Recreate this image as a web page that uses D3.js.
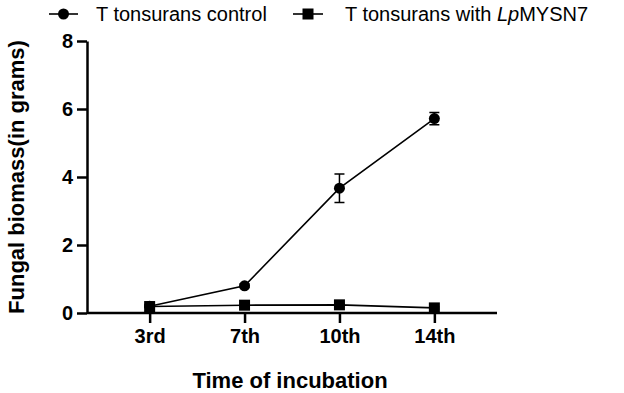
<!DOCTYPE html>
<html>
<head>
<meta charset="utf-8">
<script src="https://cdn.jsdelivr.net/npm/d3@7"></script>
<style>
  body { margin: 0; background: #fff; }
  text { font-family: "Liberation Sans", Arial, sans-serif; }
</style>
</head>
<body>
<svg width="624" height="393"></svg>
<script>
// days of incubation
const days = ['3rd', '7th', '10th', '14th'];
const controlMean = [0.2, 0.8, 3.67, 5.72];
const controlErr = [0.04, 0.05, 0.42, 0.18];
const treatedMean = [0.19, 0.23, 0.24, 0.15];
const treatedErr = [0.03, 0.03, 0.03, 0.03];
const yTicks = [0, 2, 4, 6, 8];

const svg = d3.select('svg');

const x = d3.scalePoint()
    .domain(days)
    .range([87, 497])
    .padding(0.66);

const y = d3.scaleLinear()
    .domain([0, 8])
    .range([313, 41]);

// axes
const xAxis = svg.append('g')
    .attr('transform', 'translate(0,313)')
    .call(d3.axisBottom(x).tickSize(10).tickPadding(6).tickSizeOuter(0));

const yAxis = svg.append('g')
    .attr('transform', 'translate(87,0)')
    .call(d3.axisLeft(y).tickValues(yTicks).tickSize(10).tickPadding(4).tickSizeOuter(0));

[xAxis, yAxis].forEach(ax => {
    ax.select('.domain').attr('stroke', '#000').attr('stroke-width', 2.5);
    ax.selectAll('.tick line').attr('stroke', '#000').attr('stroke-width', 2.5);
    ax.selectAll('.tick text')
        .attr('fill', '#000')
        .style('font-size', '20px')
        .style('font-weight', 'bold')
        .style('font-family', '"Liberation Sans", Arial, sans-serif');
});
// extend x axis line to meet y axis
xAxis.select('.domain').attr('d', 'M87,0H497');

svg.append('text')
    .attr('x', 290)
    .attr('y', 388)
    .attr('text-anchor', 'middle')
    .style('font-size', '22px')
    .style('font-weight', 'bold')
    .text('Time of incubation');

svg.append('text')
    .attr('transform', 'translate(24,177) rotate(-90)')
    .attr('text-anchor', 'middle')
    .style('font-size', '22px')
    .style('font-weight', 'bold')
    .text('Fungal biomass(in grams)');

const line = d3.line()
    .x(d => x(d.day))
    .y(d => y(d.v));

const series = [
    { mean: controlMean, err: controlErr, shape: 'circle' },
    { mean: treatedMean, err: treatedErr, shape: 'square' },
];

series.forEach(s => {
    const pts = days.map((day, i) => ({ day, v: s.mean[i], e: s.err[i] }));
    const g = svg.append('g');

    g.append('path')
        .attr('d', line(pts))
        .attr('fill', 'none')
        .attr('stroke', '#000')
        .attr('stroke-width', 1.6);

    // error bars
    pts.forEach(p => {
        const cx = x(p.day);
        g.append('path')
            .attr('d', `M${cx},${y(p.v + p.e)}V${y(p.v - p.e)}M${cx - 5},${y(p.v + p.e)}H${cx + 5}M${cx - 5},${y(p.v - p.e)}H${cx + 5}`)
            .attr('stroke', '#000')
            .attr('stroke-width', 1.5)
            .attr('fill', 'none');
    });

    if (s.shape === 'circle') {
        g.selectAll('circle')
            .data(pts)
            .join('circle')
            .attr('cx', d => x(d.day))
            .attr('cy', d => y(d.v))
            .attr('r', 5.5)
            .attr('fill', '#000');
    } else {
        g.selectAll('rect')
            .data(pts)
            .join('rect')
            .attr('x', d => x(d.day) - 5.5)
            .attr('y', d => y(d.v) - 5.5)
            .attr('width', 11)
            .attr('height', 11)
            .attr('fill', '#000');
    }
});

// legend
const legend = svg.append('g');
const leg1 = legend.append('g').attr('transform', 'translate(49,14)');
leg1.append('line').attr('x1', 0).attr('x2', 29).attr('stroke', '#000').attr('stroke-width', 1.6);
leg1.append('circle').attr('cx', 14.5).attr('r', 5.5).attr('fill', '#000');
leg1.append('text').attr('x', 47).attr('y', 6.5).style('font-size', '20px')
    .text('T tonsurans control');

const leg2 = legend.append('g').attr('transform', 'translate(293,14)');
leg2.append('line').attr('x1', 0).attr('x2', 30).attr('stroke', '#000').attr('stroke-width', 1.6);
leg2.append('rect').attr('x', 9.5).attr('y', -5.5).attr('width', 11).attr('height', 11).attr('fill', '#000');
const t2 = leg2.append('text').attr('x', 52).attr('y', 6.5).style('font-size', '20px');
t2.append('tspan').text('T tonsurans with ');
t2.append('tspan').style('font-style', 'italic').text('Lp');
t2.append('tspan').text('MYSN7');
</script>
</body>
</html>
